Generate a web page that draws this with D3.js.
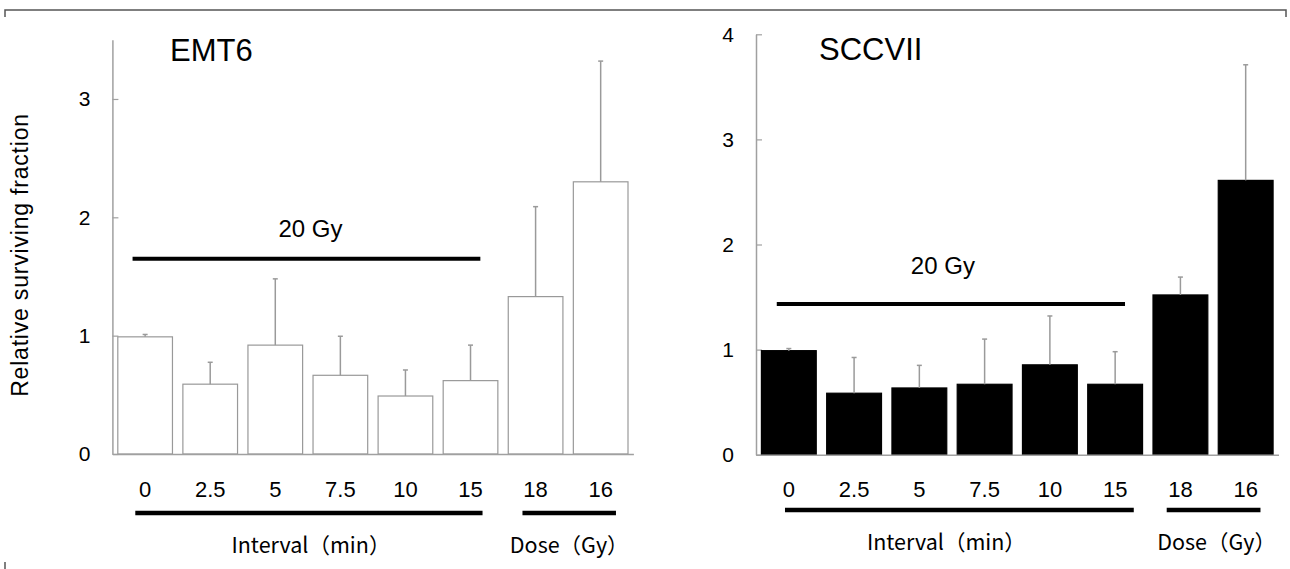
<!DOCTYPE html>
<html lang="en">
<head>
  <meta charset="UTF-8">
  <script src="https://cdn.jsdelivr.net/npm/d3@7"></script>
  <title>Relative surviving fraction</title>
  <style>
    body { margin: 0; background: #fff; }
    text { font-family: "Liberation Sans", Arial, sans-serif; fill: #000; }
    .jp { font-family: "Noto Sans CJK JP", sans-serif; }
  </style>
</head>
<body>
  <svg width="1290" height="569"></svg>
<script>
  // data
  const categories = ["0", "2.5", "5", "7.5", "10", "15", "18", "16"];
  const intervalCats = ["0", "2.5", "5", "7.5", "10", "15"];
  const doseCats = ["18", "16"];

  const emt6Mean = [0.99, 0.59, 0.92, 0.665, 0.49, 0.62, 1.33, 2.30];
  const emt6Err = [0.02, 0.185, 0.56, 0.33, 0.22, 0.30, 0.76, 1.02];

  const sccMean = [0.99, 0.585, 0.635, 0.67, 0.855, 0.67, 1.52, 2.61];
  const sccErr = [0.02, 0.34, 0.215, 0.43, 0.465, 0.31, 0.17, 1.10];

  const emt6Ticks = [0, 1, 2, 3];
  const sccTicks = [0, 1, 2, 3, 4];
  const gyLabel = "20 Gy";
  const groupLabels = ["Interval（min）", "Dose（Gy）"];

  const svg = d3.select("svg");

  // thin frame at top
  svg.append("path")
    .attr("d", "M5,17 V10 H1286 V17")
    .attr("fill", "none")
    .attr("stroke", "#555")
    .attr("stroke-width", 1.5);
  svg.append("line")
    .attr("x1", 5).attr("x2", 5).attr("y1", 562).attr("y2", 569)
    .attr("stroke", "#555").attr("stroke-width", 1.5);

  const panels = [
    {
      title: "EMT6", titleX: 170, titleY: 61,
      mean: emt6Mean, err: emt6Err, ticks: emt6Ticks, yMax: 3.5,
      xRange: [112.4, 633.4], yRange: [454, 39.8],
      fill: "#fff", stroke: "#999",
      gyLevel: 1.65, gyFrom: 0.27, gyTo: 0.68, gyDx: 4, gyDy: -22,
      intFrom: 0.32, intTo: 0.72, doseFrom: 0.26, doseTo: 0.78, lineY: 513,
      intDx: 2, doseDx: 0
    },
    {
      title: "SCCVII", titleX: 819, titleY: 60,
      mean: sccMean, err: sccErr, ticks: sccTicks, yMax: 4,
      xRange: [756, 1278.5], yRange: [454.7, 34.3],
      fill: "#000", stroke: "#000",
      gyLevel: 1.434, gyFrom: 0.28, gyTo: 0.68, gyDx: -8, gyDy: -30,
      intFrom: 0.43, intTo: 0.84, doseFrom: 0.25, doseTo: 0.77, lineY: 510,
      intDx: -13, doseDx: 3
    }
  ];

  panels.forEach(p => {
    const g = svg.append("g");

    const xScale = d3.scaleBand()
      .domain(categories)
      .range(p.xRange)
      .paddingInner(0.16)
      .paddingOuter(0.083);

    const yScale = d3.scaleLinear()
      .domain([0, p.yMax])
      .range(p.yRange);

    const bw = xScale.bandwidth();

    // y axis, ticks point inward
    const yAxis = g.append("g")
      .attr("transform", "translate(" + p.xRange[0] + ",0)")
      .call(d3.axisLeft(yScale).tickValues(p.ticks).tickSizeInner(-6).tickSizeOuter(0).tickPadding(22).tickFormat(d3.format("d")));
    yAxis.select(".domain").attr("stroke", "#a0a0a0").attr("stroke-width", 1.5);
    yAxis.selectAll(".tick line").attr("stroke", "#a0a0a0").attr("stroke-width", 1.2);
    yAxis.selectAll(".tick text")
      .style("font-size", "21px")
      .style("font-family", "'Liberation Sans', Arial, sans-serif")
      .attr("fill", "#000");

    // bars
    g.append("g")
      .selectAll("rect")
      .data(p.mean)
      .join("rect")
      .attr("x", (d, i) => xScale(categories[i]))
      .attr("y", d => yScale(d))
      .attr("width", bw)
      .attr("height", d => yScale(0) - yScale(d))
      .attr("fill", p.fill)
      .attr("stroke", p.stroke)
      .attr("stroke-width", 1.2);

    // error bars (upper only)
    const eb = g.append("g").attr("stroke", "#9a9a9a").attr("stroke-width", 1.5);
    eb.selectAll("line.v")
      .data(p.mean)
      .join("line")
      .attr("class", "v")
      .attr("x1", (d, i) => xScale(categories[i]) + bw / 2)
      .attr("x2", (d, i) => xScale(categories[i]) + bw / 2)
      .attr("y1", d => yScale(d))
      .attr("y2", (d, i) => yScale(d + p.err[i]));
    eb.selectAll("line.cap")
      .data(p.mean)
      .join("line")
      .attr("class", "cap")
      .attr("x1", (d, i) => xScale(categories[i]) + bw / 2 - 2.5)
      .attr("x2", (d, i) => xScale(categories[i]) + bw / 2 + 2.5)
      .attr("y1", (d, i) => yScale(d + p.err[i]))
      .attr("y2", (d, i) => yScale(d + p.err[i]));

    // x axis with category labels
    const xAxis = g.append("g")
      .attr("transform", "translate(0," + yScale(0) + ")")
      .call(d3.axisBottom(xScale).tickSize(0).tickPadding(27));
    xAxis.select(".domain").attr("stroke", "#a0a0a0").attr("stroke-width", 1.5);
    xAxis.selectAll(".tick text")
      .style("font-size", "22px")
      .style("font-family", "'Liberation Sans', Arial, sans-serif")
      .attr("fill", "#000");

    // title
    g.append("text")
      .attr("x", p.titleX)
      .attr("y", p.titleY)
      .style("font-size", "31px")
      .text(p.title);

    // 20 Gy line
    const gx1 = xScale(intervalCats[0]) + bw * p.gyFrom;
    const gx2 = xScale(intervalCats[intervalCats.length - 1]) + bw * p.gyTo;
    g.append("line")
      .attr("x1", gx1).attr("x2", gx2)
      .attr("y1", yScale(p.gyLevel)).attr("y2", yScale(p.gyLevel))
      .attr("stroke", "#000").attr("stroke-width", 4);
    g.append("text")
      .attr("x", (gx1 + gx2) / 2 + p.gyDx)
      .attr("y", yScale(p.gyLevel) + p.gyDy)
      .attr("text-anchor", "middle")
      .style("font-size", "24px")
      .text(gyLabel);

    // group brackets under the x labels
    const groups = [
      { cats: intervalCats, from: p.intFrom, to: p.intTo, label: groupLabels[0], dx: p.intDx },
      { cats: doseCats, from: p.doseFrom, to: p.doseTo, label: groupLabels[1], dx: p.doseDx }
    ];
    groups.forEach(gr => {
      const a = xScale(gr.cats[0]) + bw * gr.from;
      const b = xScale(gr.cats[gr.cats.length - 1]) + bw * gr.to;
      g.append("line")
        .attr("x1", a).attr("x2", b)
        .attr("y1", p.lineY).attr("y2", p.lineY)
        .attr("stroke", "#000").attr("stroke-width", 4.5);
      g.append("text")
        .attr("class", "jp")
        .attr("x", (a + b) / 2 + gr.dx)
        .attr("y", p.lineY + 40)
        .attr("text-anchor", "middle")
        .style("font-size", "21.5px")
        .text(gr.label);
    });
  });

  // y axis title
  svg.append("text")
    .attr("transform", "translate(28,255) rotate(-90)")
    .attr("text-anchor", "middle")
    .style("font-size", "23px")
    .style("letter-spacing", "0.8px")
    .text("Relative surviving fraction");
</script>
</body>
</html>
